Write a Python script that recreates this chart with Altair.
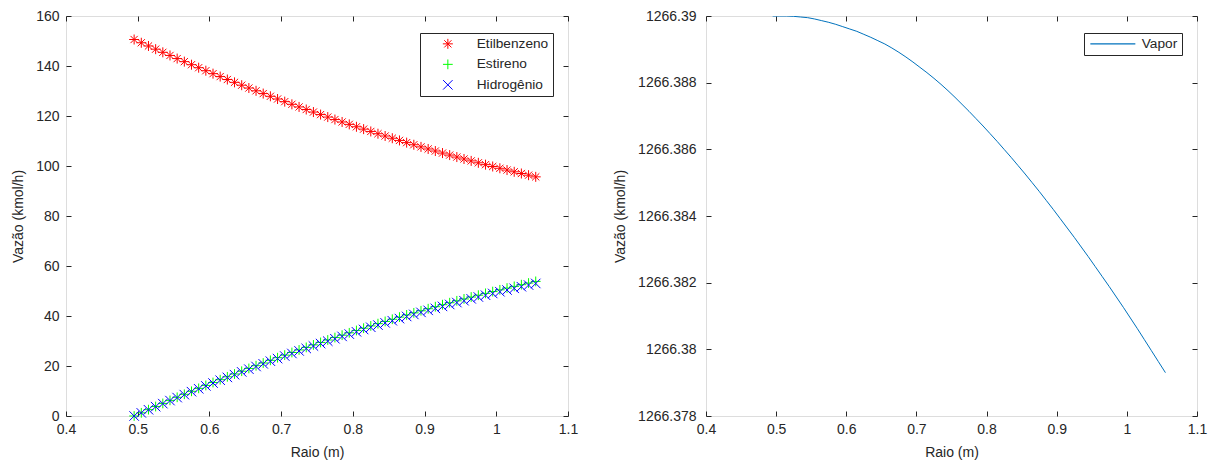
import altair as alt
import pandas as pd

# ---------------- data ----------------
raio = [0.495, 0.505, 0.515, 0.525, 0.535, 0.545, 0.555, 0.565, 0.575, 0.585,
        0.595, 0.605, 0.615, 0.625, 0.635, 0.645, 0.655, 0.665, 0.675, 0.685,
        0.695, 0.705, 0.715, 0.725, 0.735, 0.745, 0.755, 0.765, 0.775, 0.785,
        0.795, 0.805, 0.815, 0.825, 0.835, 0.845, 0.855, 0.865, 0.875, 0.885,
        0.895, 0.905, 0.915, 0.925, 0.935, 0.945, 0.955, 0.965, 0.975, 0.985,
        0.995, 1.005, 1.015, 1.025, 1.035, 1.045, 1.055]

etilbenzeno = [150.60, 149.30, 148.01, 146.73, 145.47, 144.22, 142.97, 141.74, 140.52, 139.32,
               138.12, 136.94, 135.77, 134.60, 133.46, 132.32, 131.19, 130.08, 128.97, 127.88,
               126.80, 125.74, 124.68, 123.63, 122.60, 121.58, 120.57, 119.57, 118.58, 117.61,
               116.65, 115.69, 114.75, 113.82, 112.91, 112.00, 111.11, 110.23, 109.35, 108.50,
               107.65, 106.81, 105.99, 105.17, 104.37, 103.58, 102.81, 102.04, 101.28, 100.54,
               99.81, 99.09, 98.38, 97.68, 97.00, 96.33, 95.66]

estireno = [0.00, 1.27, 2.54, 3.79, 5.03, 6.25, 7.48, 8.68, 9.88, 11.05,
            12.23, 13.39, 14.53, 15.68, 16.80, 17.91, 19.02, 20.11, 21.20, 22.27,
            23.32, 24.36, 25.40, 26.43, 27.44, 28.44, 29.43, 30.41, 31.38, 32.33,
            33.27, 34.21, 35.13, 36.04, 36.94, 37.83, 38.70, 39.56, 40.43, 41.26,
            42.09, 42.91, 43.72, 44.52, 45.31, 46.08, 46.83, 47.59, 48.33, 49.06,
            49.77, 50.48, 51.18, 51.86, 52.53, 53.18, 53.84]

hidrogenio = [0.00, 1.25, 2.50, 3.73, 4.95, 6.16, 7.36, 8.55, 9.73, 10.89,
              12.04, 13.18, 14.31, 15.44, 16.54, 17.64, 18.73, 19.80, 20.87, 21.92,
              22.97, 23.99, 25.01, 26.03, 27.02, 28.00, 28.98, 29.94, 30.90, 31.84,
              32.76, 33.69, 34.60, 35.49, 36.37, 37.25, 38.11, 38.96, 39.81, 40.63,
              41.45, 42.26, 43.05, 43.84, 44.61, 45.38, 46.12, 46.86, 47.59, 48.31,
              49.01, 49.71, 50.39, 51.07, 51.72, 52.37, 53.02]

vapor = [1266.39000, 1266.39000, 1266.39000, 1266.38999, 1266.38997, 1266.38995, 1266.38991,
         1266.38986, 1266.38981, 1266.38975, 1266.38968, 1266.38961, 1266.38954, 1266.38945,
         1266.38936, 1266.38926, 1266.38916, 1266.38904, 1266.38891, 1266.38877, 1266.38862,
         1266.38846, 1266.38830, 1266.38813, 1266.38795, 1266.38776, 1266.38756, 1266.38735,
         1266.38714, 1266.38692, 1266.38670, 1266.38647, 1266.38624, 1266.38600, 1266.38576,
         1266.38551, 1266.38526, 1266.38500, 1266.38474, 1266.38447, 1266.38420, 1266.38392,
         1266.38364, 1266.38336, 1266.38307, 1266.38278, 1266.38248, 1266.38218, 1266.38188,
         1266.38157, 1266.38126, 1266.38094, 1266.38062, 1266.38029, 1266.37996, 1266.37963,
         1266.37930]

series_names = ["Etilbenzeno", "Estireno", "Hidrogênio"]
series_colors = ["#ff0000", "#00ff00", "#0000ff"]
x_ticks = [0.4, 0.5, 0.6, 0.7, 0.8, 0.9, 1.0, 1.1]
y_ticks_left = [0, 20, 40, 60, 80, 100, 120, 140, 160]
y_ticks_right = [1266.378, 1266.380, 1266.382, 1266.384, 1266.386, 1266.388, 1266.390]

# ---------------- tables ----------------
rows = []
for name, vals in zip(series_names, [etilbenzeno, estireno, hidrogenio]):
    for r, v in zip(raio, vals):
        rows.append({"raio": r, "vazao": v, "serie": name})
df_left = pd.DataFrame(rows)
df_right = pd.DataFrame({"raio_v": raio, "vazao_v": vapor, "curva": ["Vapor"] * len(raio)})

FONT = "Liberation Sans"
TXT = "#262626"

star = "M-1,0L1,0M0,-1L0,1M-0.72,-0.72L0.72,0.72M-0.72,0.72L0.72,-0.72"
plus = "M-1,0L1,0M0,-1L0,1"
cross = "M-1,-1L1,1M-1,1L1,-1"
legend_line = "M-4.5,0L4.5,0"


def main_axis(orient, values, fmt, title, label_pad, title_pad):
    return alt.Axis(orient=orient, values=values, format=fmt, title=title,
                    domain=False, grid=False, tickSize=5, offset=-5,
                    tickColor=TXT, labelColor=TXT, titleColor=TXT,
                    labelFont=FONT, titleFont=FONT, labelFontSize=14,
                    titleFontSize=14, titleFontWeight="normal",
                    labelPadding=label_pad, titlePadding=title_pad,
                    labelFlush=False, labelOverlap=False)


def frame_axis(orient, values):
    return alt.Axis(orient=orient, values=values, labels=False, title=None,
                    domain=False, grid=False, tickSize=5, offset=-5, tickColor=TXT)


def left_legend():
    return alt.Legend(title=None, orient="none", legendX=354, legendY=17,
                      fillColor="white", strokeColor=TXT, padding=4,
                      rowPadding=5.5, symbolOffset=17, labelOffset=22,
                      labelFont=FONT, labelFontSize=13.7, labelColor=TXT,
                      symbolSize=90, symbolStrokeWidth=1, cornerRadius=0)


xs_left = alt.Scale(domain=[0.4, 1.1], nice=False, zero=False)
ys_left = alt.Scale(domain=[0, 160], nice=False, zero=False)

points = alt.Chart(df_left).mark_point(filled=False, strokeWidth=1, opacity=1).encode(
    x=alt.X("raio:Q", scale=xs_left,
            axis=main_axis("bottom", x_ticks, ".1~f", "Raio (m)", 6, 9)),
    y=alt.Y("vazao:Q", scale=ys_left,
            axis=main_axis("left", y_ticks_left, "d", "Vazão (kmol/h)", 7, 10)),
    color=alt.Color("serie:N", sort=series_names,
                    scale=alt.Scale(domain=series_names, range=series_colors),
                    legend=left_legend()),
    shape=alt.Shape("serie:N", sort=series_names,
                    scale=alt.Scale(domain=series_names, range=[star, plus, cross]),
                    legend=left_legend()),
    size=alt.Size("serie:N", sort=series_names,
                  scale=alt.Scale(domain=series_names, range=[100, 90, 50]), legend=None),
)

frame_left = alt.Chart(df_left).mark_point(opacity=0).encode(
    x=alt.X("raio:Q", scale=xs_left, axis=frame_axis("top", x_ticks)),
    y=alt.Y("vazao:Q", scale=ys_left, axis=frame_axis("right", y_ticks_left)),
)

left = alt.layer(points, frame_left).properties(width=502, height=400)

xs_right = alt.Scale(domain=[0.4, 1.1], nice=False, zero=False)
ys_right = alt.Scale(domain=[1266.378, 1266.39], nice=False, zero=False)

line = alt.Chart(df_right).mark_line(strokeWidth=1, clip=True).encode(
    x=alt.X("raio_v:Q", scale=xs_right,
            axis=main_axis("bottom", x_ticks, ".1~f", "Raio (m)", 6, 9)),
    y=alt.Y("vazao_v:Q", scale=ys_right,
            axis=main_axis("left", y_ticks_right, ".3~f", "Vazão (kmol/h)", 10, 10)),
    stroke=alt.Stroke("curva:N",
                      scale=alt.Scale(domain=["Vapor"], range=["#0072bd"]),
                      legend=alt.Legend(title=None, orient="none", legendX=378, legendY=17,
                                        fillColor="white", strokeColor=TXT, padding=4,
                                        symbolType=legend_line, symbolSize=100,
                                        symbolOffset=18, labelOffset=22,
                                        symbolStrokeWidth=1.2,
                                        labelFont=FONT, labelFontSize=13.7, labelColor=TXT,
                                        cornerRadius=0)),
)

frame_right = alt.Chart(df_right).mark_point(opacity=0).encode(
    x=alt.X("raio_v:Q", scale=xs_right, axis=frame_axis("top", x_ticks)),
    y=alt.Y("vazao_v:Q", scale=ys_right, axis=frame_axis("right", y_ticks_right)),
)

right = alt.layer(line, frame_right).properties(width=491, height=400)

chart = alt.hconcat(left, right, spacing=34).resolve_scale(
    color="independent", shape="independent", size="independent", stroke="independent"
).resolve_legend(
    color="independent", shape="independent", stroke="independent"
).properties(
    padding={"left": 11, "top": 8, "right": 0, "bottom": 0}
).configure_view(stroke=TXT, strokeWidth=1).configure(background="white")

chart.save("out.html", embed_options={"renderer": "svg", "actions": False})
